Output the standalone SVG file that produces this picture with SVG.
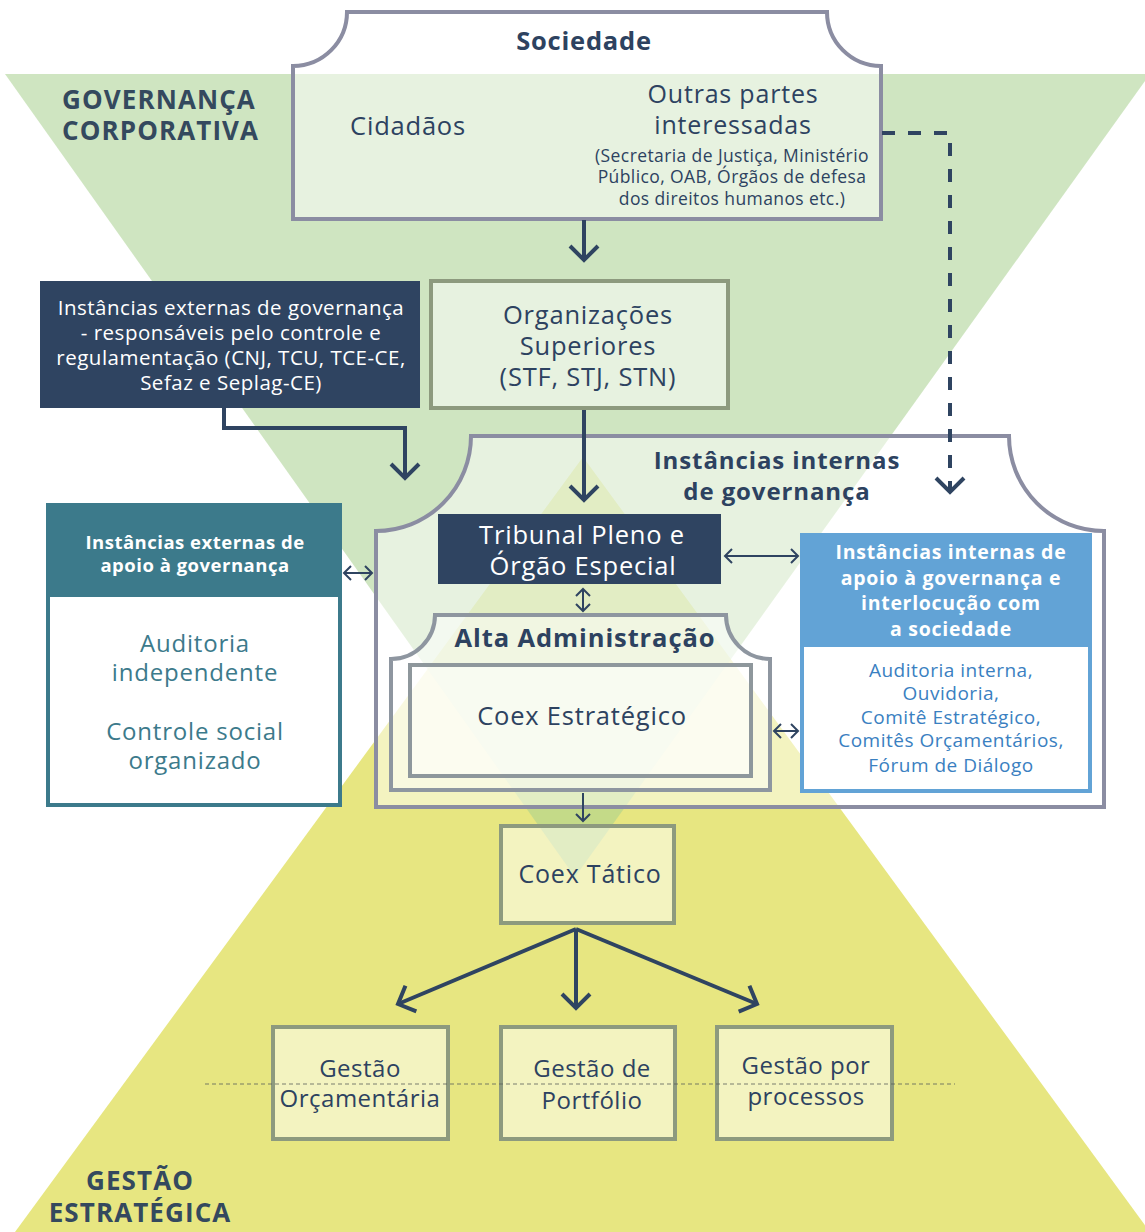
<svg xmlns="http://www.w3.org/2000/svg" width="1145" height="1232" viewBox="0 0 1145 1232">
<defs>
<style>
text{font-family:"Open Sans","Noto Sans","DejaVu Sans",sans-serif;text-anchor:middle;}
.d{fill:#2d4260;}
.w{fill:#ffffff;}
.b{font-weight:bold;}
.box{fill:#ffffff;fill-opacity:0.5;}
.gray{stroke:#8b8da2;stroke-width:4;}
.grn{stroke:#8d9a7e;stroke-width:4;}
.con{fill:none;stroke:#2f4461;stroke-width:4;}
.thin{fill:none;stroke:#2f4461;stroke-width:2;}
</style>
<marker id="chev" markerUnits="userSpaceOnUse" viewBox="-20 -20 24 40" markerWidth="24" markerHeight="40" refX="0" refY="0" orient="auto" overflow="visible">
<path d="M-14,-14 L0,0 L-14,14" fill="none" stroke="#2f4461" stroke-width="4"/>
</marker>
<marker id="chevs" markerUnits="userSpaceOnUse" viewBox="-10 -10 12 20" markerWidth="12" markerHeight="20" refX="0" refY="0" orient="auto-start-reverse" overflow="visible">
<path d="M-7,-7 L0,0 L-7,7" fill="none" stroke="#2f4461" stroke-width="2"/>
</marker>
</defs>

<g id="background">
<polygon points="15,1232 583,457 1150,1232" fill="#e7e681"/>
<polygon points="5,74 1150,74 575,877" fill="#a8cf8e" fill-opacity="0.55"/>
<text x="62" y="109" class="b" style="text-anchor:start;font-size:26px;letter-spacing:1.1px;fill:#34495e">GOVERNANÇA</text>
<text x="62" y="140" class="b" style="text-anchor:start;font-size:26px;letter-spacing:1.1px;fill:#34495e">CORPORATIVA</text>
<text x="140" y="1190" class="b" style="font-size:26px;letter-spacing:1.1px;fill:#34495e">GESTÃO</text>
<text x="140" y="1222" class="b" style="font-size:26px;letter-spacing:1.1px;fill:#34495e">ESTRATÉGICA</text>
</g>

<g id="sociedade">
<path d="M293,66 A54,54 0 0 0 347,12 H827 A54,54 0 0 0 881,66 V219 H293 Z" class="box gray"/>
<text x="584" y="50" class="d b" style="font-size:25.5px;letter-spacing:0.8px">Sociedade</text>
<text x="408" y="135" class="d" style="font-size:25.5px;letter-spacing:0.8px">Cidadãos</text>
<text x="733" y="103" class="d" style="font-size:25px;letter-spacing:0.8px">Outras partes</text>
<text x="733" y="134" class="d" style="font-size:25px;letter-spacing:0.8px">interessadas</text>
<text x="732" y="162" class="d" style="font-size:17.5px;letter-spacing:0.4px">(Secretaria de Justiça, Ministério</text>
<text x="732" y="183" class="d" style="font-size:17.5px;letter-spacing:0.4px">Público, OAB, Órgãos de defesa</text>
<text x="732" y="205" class="d" style="font-size:17.5px;letter-spacing:0.4px">dos direitos humanos etc.)</text>
</g>

<g id="externas-governanca">
<rect x="40" y="281" width="380" height="127" fill="#2f4461"/>
<text x="231" y="315" class="w" style="font-size:20.5px;letter-spacing:0.5px">Instâncias externas de governança</text>
<text x="231" y="340" class="w" style="font-size:20.5px;letter-spacing:0.5px">- responsáveis pelo controle e</text>
<text x="231" y="365" class="w" style="font-size:20.5px;letter-spacing:0.5px">regulamentação (CNJ, TCU, TCE-CE,</text>
<text x="231" y="390" class="w" style="font-size:20.5px;letter-spacing:0.5px">Sefaz e Seplag-CE)</text>
</g>

<g id="organizacoes-superiores">
<rect x="431" y="281" width="297" height="127" class="box grn"/>
<text x="588" y="324" class="d" style="font-size:25.5px;letter-spacing:0.8px">Organizações</text>
<text x="588" y="355" class="d" style="font-size:25.5px;letter-spacing:0.8px">Superiores</text>
<text x="588" y="386" class="d" style="font-size:25.5px;letter-spacing:0.8px">(STF, STJ, STN)</text>
</g>

<g id="instancias-internas">
<path d="M376,531 A95,95 0 0 0 471,436 H1009 A95,95 0 0 0 1104,531 V807 H376 Z" class="box gray"/>
<text x="777" y="469" class="d b" style="font-size:24px;letter-spacing:0.9px">Instâncias internas</text>
<text x="777" y="500" class="d b" style="font-size:24px;letter-spacing:0.9px">de governança</text>
</g>

<g id="tribunal-pleno">
<rect x="438" y="514" width="283" height="70" fill="#2f4461"/>
<text x="582" y="544" class="w" style="font-size:25.5px;letter-spacing:0.8px">Tribunal Pleno e</text>
<text x="583" y="575" class="w" style="font-size:25.5px;letter-spacing:0.8px">Órgão Especial</text>
</g>

<g id="alta-administracao">
<path d="M391,659 A44,44 0 0 0 435,615 H726 A44,44 0 0 0 770,659 V790 H391 Z" class="box" stroke="#8e96a0" stroke-width="4"/>
<text x="585" y="647" class="d b" style="font-size:25.5px;letter-spacing:0.9px">Alta Administração</text>
</g>

<g id="coex-estrategico">
<rect x="410" y="665" width="341" height="111" class="box" stroke="#8e979c" stroke-width="4"/>
<text x="582" y="725" class="d" style="font-size:25.5px;letter-spacing:0.8px">Coex Estratégico</text>
</g>

<g id="externas-apoio">
<rect x="48" y="505" width="292" height="300" fill="#ffffff" stroke="#3c7a8b" stroke-width="4"/>
<rect x="48" y="505" width="292" height="92" fill="#3c7a8b"/>
<text x="195" y="549" class="w b" style="font-size:18.5px;letter-spacing:0.5px">Instâncias externas de</text>
<text x="195" y="572" class="w b" style="font-size:18.5px;letter-spacing:0.5px">apoio à governança</text>
<text x="195" y="652" style="font-size:24px;letter-spacing:0.8px;fill:#3c7a8b">Auditoria</text>
<text x="195" y="681" style="font-size:24px;letter-spacing:0.8px;fill:#3c7a8b">independente</text>
<text x="195" y="740" style="font-size:24px;letter-spacing:0.8px;fill:#3c7a8b">Controle social</text>
<text x="195" y="769" style="font-size:24px;letter-spacing:0.8px;fill:#3c7a8b">organizado</text>
</g>

<g id="internas-apoio">
<rect x="802" y="535" width="288" height="256" fill="#ffffff" stroke="#62a3d6" stroke-width="4"/>
<rect x="802" y="535" width="288" height="112" fill="#62a3d6"/>
<text x="951" y="559" class="w b" style="font-size:19.5px;letter-spacing:0.7px">Instâncias internas de</text>
<text x="951" y="585" class="w b" style="font-size:19.5px;letter-spacing:0.7px">apoio à governança e</text>
<text x="951" y="610" class="w b" style="font-size:19.5px;letter-spacing:0.7px">interlocução com</text>
<text x="951" y="636" class="w b" style="font-size:19.5px;letter-spacing:0.7px">a sociedade</text>
<text x="951" y="677" style="font-size:19px;letter-spacing:0.5px;fill:#3a80c1">Auditoria interna,</text>
<text x="951" y="700" style="font-size:19px;letter-spacing:0.5px;fill:#3a80c1">Ouvidoria,</text>
<text x="951" y="724" style="font-size:19px;letter-spacing:0.5px;fill:#3a80c1">Comitê Estratégico,</text>
<text x="951" y="747" style="font-size:19px;letter-spacing:0.5px;fill:#3a80c1">Comitês Orçamentários,</text>
<text x="951" y="772" style="font-size:19px;letter-spacing:0.5px;fill:#3a80c1">Fórum de Diálogo</text>
</g>

<g id="coex-tatico">
<rect x="501" y="826" width="173" height="97" class="box grn"/>
<text x="590" y="883" class="d" style="font-size:25px;letter-spacing:0.8px">Coex Tático</text>
</g>

<g id="gestao-orcamentaria">
<rect x="273" y="1027" width="175" height="112" class="box grn"/>
<text x="360" y="1077" class="d" style="font-size:24px;letter-spacing:0.5px">Gestão</text>
<text x="360" y="1107" class="d" style="font-size:24px;letter-spacing:0.5px">Orçamentária</text>
</g>
<g id="gestao-portfolio">
<rect x="501" y="1027" width="174" height="112" class="box grn"/>
<text x="592" y="1077" class="d" style="font-size:24px;letter-spacing:0.5px">Gestão de</text>
<text x="592" y="1109" class="d" style="font-size:24px;letter-spacing:0.5px">Portfólio</text>
</g>
<g id="gestao-processos">
<rect x="717" y="1027" width="175" height="112" class="box grn"/>
<text x="806" y="1074" class="d" style="font-size:24px;letter-spacing:0.5px">Gestão por</text>
<text x="806" y="1105" class="d" style="font-size:24px;letter-spacing:0.5px">processos</text>
</g>

<g id="connectors">
<path d="M584,220 V260" class="con" marker-end="url(#chev)"/>
<path d="M882,133 H950 V492" class="con" stroke-dasharray="13 13" marker-end="url(#chev)"/>
<path d="M224,408 V428 H405 V478" class="con" marker-end="url(#chev)"/>
<path d="M584,410 V500" class="con" marker-end="url(#chev)"/>
<path d="M725,556 H798" class="thin" marker-start="url(#chevs)" marker-end="url(#chevs)"/>
<path d="M583,589 V611" class="thin" marker-start="url(#chevs)" marker-end="url(#chevs)"/>
<path d="M344,573 H372" class="thin" marker-start="url(#chevs)" marker-end="url(#chevs)"/>
<path d="M774,731 H798" class="thin" marker-start="url(#chevs)" marker-end="url(#chevs)"/>
<path d="M583,793 V821" class="thin" marker-end="url(#chevs)"/>
<path d="M576,929 L398,1004" class="con" marker-end="url(#chev)"/>
<path d="M576,929 V1008" class="con" marker-end="url(#chev)"/>
<path d="M576,929 L757,1004" class="con" marker-end="url(#chev)"/>
<path d="M205,1084 H955" fill="none" stroke="#5a5f5a" stroke-width="1" stroke-dasharray="4 3" stroke-opacity="0.8"/>
</g>
</svg>
